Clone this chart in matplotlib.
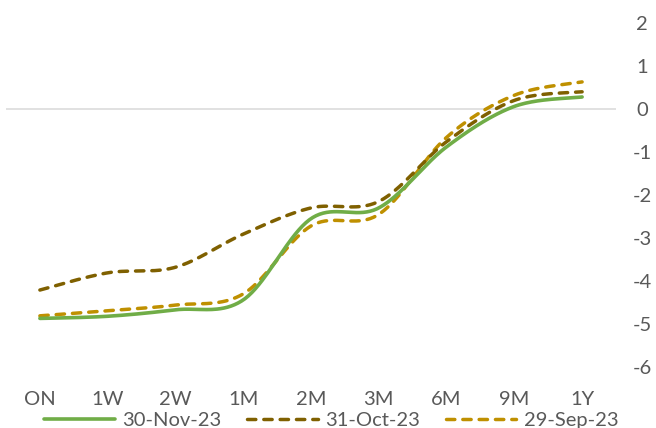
import numpy as np
import matplotlib
matplotlib.use("Agg")
import matplotlib.pyplot as plt
from matplotlib.lines import Line2D

# Tenor buckets and yield-change series
tenors = ["ON", "1W", "2W", "1M", "2M", "3M", "6M", "9M", "1Y"]
nov_30 = [-4.87, -4.82, -4.67, -4.44, -2.55, -2.30, -0.88, 0.06, 0.28]
oct_31 = [-4.21, -3.81, -3.68, -2.91, -2.30, -2.15, -0.76, 0.20, 0.40]
sep_29 = [-4.81, -4.69, -4.56, -4.30, -2.72, -2.45, -0.66, 0.32, 0.63]
series_labels = ["30-Nov-23", "31-Oct-23", "29-Sep-23"]

GREEN = "#70AD47"
BROWN = "#7F6000"
GOLD = "#BF9000"
TEXT = "#595959"

FIG_W, FIG_H = 656, 428
LEFT_PX, RIGHT_PX, TOP_PX, BOTTOM_PX = 6, 616, 23, 367
YMIN, YMAX = -6, 2
FONT_SIZE = 14.5


def smooth_curve(values, sx, sy, samples=40):
    """Bezier smoothing through every point, computed in screen-like units."""
    pts = np.array([[i * sx, v * sy] for i, v in enumerate(values)], float)
    n = len(pts)
    xs, ys = [], []
    t = np.linspace(0, 1, samples)
    for i in range(n - 1):
        p0 = pts[i - 1] if i > 0 else pts[i]
        p1, p2 = pts[i], pts[i + 1]
        p3 = pts[i + 2] if i + 2 < n else pts[i + 1]
        d02 = np.linalg.norm(p2 - p0)
        d12 = np.linalg.norm(p2 - p1)
        d13 = np.linalg.norm(p3 - p1)
        f1 = 1 / 6 if d02 / 6 < d12 / 2 or d02 == 0 else d12 / (2 * d02)
        f2 = 1 / 6 if d13 / 6 < d12 / 2 or d13 == 0 else d12 / (2 * d13)
        c1 = p1 + f1 * (p2 - p0)
        c2 = p2 - f2 * (p3 - p1)
        seg = ((1 - t) ** 3)[:, None] * p1 + (3 * (1 - t) ** 2 * t)[:, None] * c1 \
            + (3 * (1 - t) * t ** 2)[:, None] * c2 + (t ** 3)[:, None] * p2
        if i > 0:
            seg = seg[1:]
        xs.append(seg[:, 0])
        ys.append(seg[:, 1])
    return np.concatenate(xs) / sx, np.concatenate(ys) / sy


plt.rcParams["font.family"] = ["Lato", "DejaVu Sans"]

fig = plt.figure(figsize=(FIG_W / 100, FIG_H / 100), dpi=100)
ax = fig.add_axes([LEFT_PX / FIG_W, 1 - BOTTOM_PX / FIG_H,
                   (RIGHT_PX - LEFT_PX) / FIG_W, (BOTTOM_PX - TOP_PX) / FIG_H])

n = len(tenors)
ax.set_xlim(-0.5, n - 0.5)
ax.set_ylim(YMIN, YMAX)

# pixel size of one category step and one unit on the value axis
sx = (RIGHT_PX - LEFT_PX) / n
sy = (BOTTOM_PX - TOP_PX) / (YMAX - YMIN)

ax.axhline(0, color="#D9D9D9", lw=1.1, zorder=1)

styles = [
    dict(color=GREEN, lw=2.6, ls="-", solid_capstyle="round"),
    dict(color=BROWN, lw=2.5, ls=(0, (2.4, 2.3)), dash_capstyle="round"),
    dict(color=GOLD, lw=2.5, ls=(0, (2.4, 2.3)), dash_capstyle="round"),
]
draw_order = [(sep_29, 2), (oct_31, 1), (nov_30, 0)]
for vals, k in draw_order:
    cx, cy = smooth_curve(vals, sx, sy)
    ax.plot(cx, cy, zorder=3 + (2 - k), **styles[k])

for s in ax.spines.values():
    s.set_visible(False)

ax.set_xticks(range(n))
ax.set_xticklabels(tenors)
ax.yaxis.tick_right()
ax.set_yticks(range(YMIN, YMAX + 1))
ax.set_yticklabels([str(v) for v in range(YMIN, YMAX + 1)])
ax.tick_params(axis="both", length=0, colors=TEXT, labelsize=FONT_SIZE)
ax.tick_params(axis="x", pad=17)
ax.tick_params(axis="y", pad=18.7)
for lab in ax.get_yticklabels():
    lab.set_horizontalalignment("center")

handles = [Line2D([], [], **styles[k]) for k in range(3)]
leg = fig.legend(handles, series_labels, loc="center", ncol=3,
                 bbox_to_anchor=(0.505, 1 - 420 / FIG_H), frameon=False,
                 fontsize=FONT_SIZE, handlelength=3.5, handletextpad=0.35,
                 columnspacing=1.3, labelcolor=TEXT, borderpad=0.2)

fig.savefig("out.png", dpi=100)
